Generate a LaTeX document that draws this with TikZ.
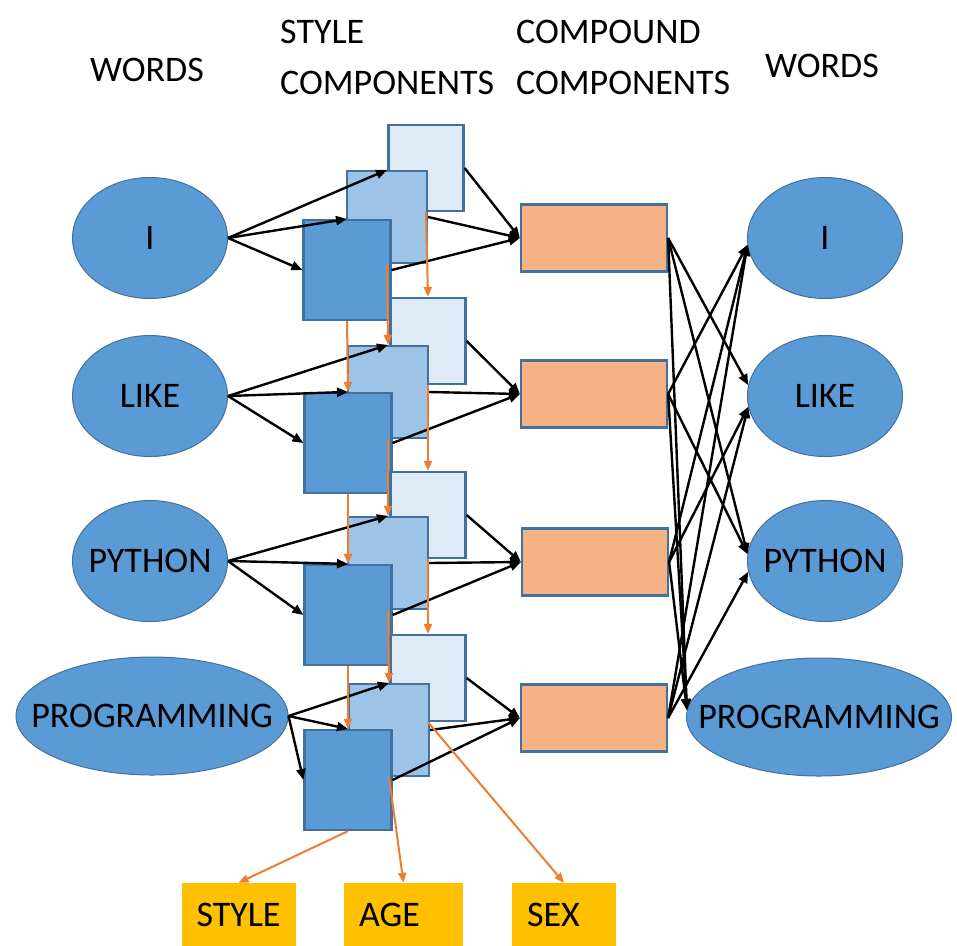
\documentclass[tikz,border=0pt]{standalone}
\usepackage{fontspec}
\setmainfont{Carlito}
\usetikzlibrary{shapes.geometric,arrows.meta,calc}
\definecolor{wordblue}{HTML}{5B9BD5}
\definecolor{edgeblue}{HTML}{41719C}
\definecolor{midblue}{HTML}{9DC3E6}
\definecolor{paleblue}{HTML}{DEEBF7}
\definecolor{salmon}{HTML}{F4B183}
\definecolor{gold}{HTML}{FFC000}
\definecolor{orangeline}{HTML}{ED7D31}
\newcommand\wordtext[1]{\makebox[0pt][c]{#1}}
\begin{document}
\begin{tikzpicture}[x=1pt,y=-1pt,
  font=\fontsize{36}{44}\selectfont,
  word/.style={ellipse, draw=edgeblue, line width=1pt, fill=wordblue, inner sep=0pt,
    minimum width=155pt, minimum height=121pt, text=black},
  widew/.style={word, minimum width=272pt, minimum height=118pt},
  boxbase/.style={rectangle, draw=edgeblue, line width=2.2pt, inner sep=0pt},
  lightbox/.style={boxbase, fill=paleblue, minimum width=75pt, minimum height=86pt},
  midbox/.style={boxbase, fill=midblue, minimum width=80pt, minimum height=92pt},
  darkbox/.style={boxbase, fill=wordblue, minimum width=87pt, minimum height=100pt},
  compbox/.style={boxbase, fill=salmon, minimum width=146pt, minimum height=67pt},
  attrbox/.style={rectangle, fill=gold, inner xsep=15pt, inner ysep=0pt,
    minimum height=63pt, text width=#1, align=left, text=black},
  header/.style={inner sep=0pt, text=black},
  blk/.style={-{Triangle[length=11pt,width=9pt]}, line width=2.4pt, black},
  org/.style={-{Triangle[length=10pt,width=8pt]}, line width=2pt, orangeline}
]
\useasboundingbox (0,0) rectangle (957,945);

% headers
\node[header] (hw1) at (147,70) {WORDS};
\node[header, anchor=north west, align=left, font=\fontsize{36}{51}\selectfont] (hsc) at (280,20) {STYLE\\COMPONENTS};
\node[header, anchor=north west, align=left, font=\fontsize{36}{51}\selectfont] (hcc) at (516,20) {COMPOUND\\COMPONENTS};
\node[header] (hw2) at (822,66) {WORDS};

% left words
\node[word] (wI) at (150,238) {\wordtext{I}};
\node[word] (wL) at (150,396) {\wordtext{LIKE}};
\node[word] (wPy) at (150,561) {\wordtext{PYTHON}};
\node[widew] (wPr) at (152,716) {\wordtext{PROGRAMMING}};

% right words
\node[word] (rI) at (825,238) {\wordtext{I}};
\node[word] (rL) at (825,396) {\wordtext{LIKE}};
\node[word] (rPy) at (825,561) {\wordtext{PYTHON}};
\node[widew, minimum width=265pt] (rPr) at (819,717) {\wordtext{PROGRAMMING}};

% style components
\node[lightbox] (l1) at (426,168) {};
\node[midbox] (m1) at (387,217) {};
\node[darkbox] (d1) at (347,270) {};
\node[lightbox] (l2) at (428,341) {};
\node[midbox] (m2) at (388,392) {};
\node[darkbox] (d2) at (348,443) {};
\node[lightbox] (l3) at (428,515) {};
\node[midbox] (m3) at (388,563) {};
\node[darkbox] (d3) at (348,615) {};
\node[lightbox] (l4) at (428,678) {};
\node[midbox] (m4) at (389,730) {};
\node[darkbox] (d4) at (348,780) {};

% compound components
\node[compbox] (c1) at (594,238) {};
\node[compbox] (c2) at (594,394) {};
\node[compbox] (c3) at (595,562) {};
\node[compbox] (c4) at (594,718) {};

% attributes
\node[attrbox=84pt] (bstyle) at (238.5,914.5) {STYLE};
\node[attrbox=89pt] (bage) at (403.5,914.5) {AGE};
\node[attrbox=74pt] (bsex) at (564,914.5) {SEX};

% words -> style components -> compound
\foreach \w/\r in {wI/1,wL/2,wPy/3,wPr/4} {
  \draw[blk] (\w.east) -- (m\r.north);
  \draw[blk] (\w.east) -- (d\r.north);
  \draw[blk] (\w.east) -- (d\r.west);
  \draw[blk] (l\r.east) -- (c\r.west);
  \draw[blk] (m\r.east) -- (c\r.west);
  \draw[blk] (d\r.east) -- (c\r.west);
}

% compound -> output words
\draw[blk] (c1.east) -- (rL.172);
\draw[blk] (c1.east) -- (rPy.175);
\draw[blk] (c1.east) -- (rPr.177);
\draw[blk] (c2.east) -- (rI.185);
\draw[blk] (c2.east) -- (rPy.175);
\draw[blk] (c2.east) -- (rPr.177);
\draw[blk] (c3.east) -- (rI.185);
\draw[blk] (c3.east) -- (rL.188);
\draw[blk] (c3.east) -- (rPr.177);
\draw[blk] (c4.east) -- (rI.185);
\draw[blk] (c4.east) -- (rL.188);
\draw[blk] (c4.east) -- (rPy.188);

% orange style flow
\foreach \a/\b in {1/2,2/3,3/4} {
  \draw[org] (d\a.south) -- (d\b.north);
  \draw[org] (m\a.south) -- (m\b.north);
  \draw[org] (l\a.south) -- (l\b.north);
}
\draw[org] (d4.south) -- (bstyle.north);
\draw[org] (m4.south) -- (bage.north);
\draw[org] (l4.south) -- (bsex.north);
\end{tikzpicture}
\end{document}
